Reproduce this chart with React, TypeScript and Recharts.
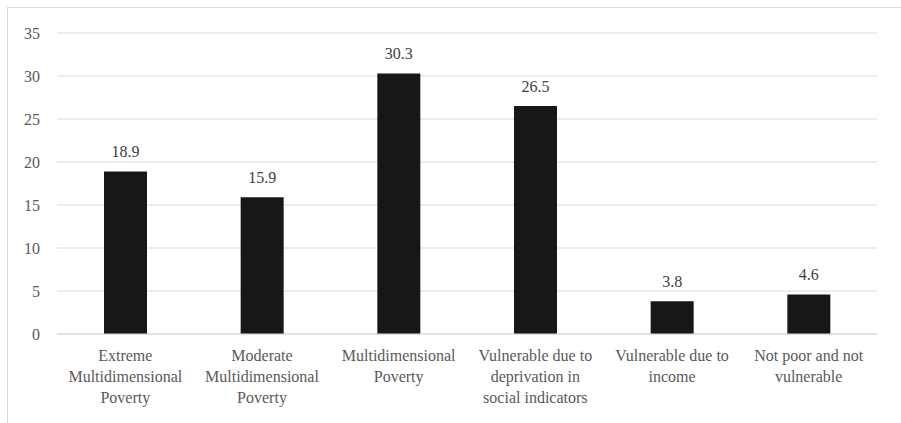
import React from "react";
import { BarChart, Bar, XAxis, YAxis, CartesianGrid, LabelList } from "recharts";

const categories = [
  "Extreme Multidimensional Poverty",
  "Moderate Multidimensional Poverty",
  "Multidimensional Poverty",
  "Vulnerable due to deprivation in social indicators",
  "Vulnerable due to income",
  "Not poor and not vulnerable",
];
const categoryLines: string[][] = [
  ["Extreme", "Multidimensional", "Poverty"],
  ["Moderate", "Multidimensional", "Poverty"],
  ["Multidimensional", "Poverty"],
  ["Vulnerable due to", "deprivation in", "social indicators"],
  ["Vulnerable due to", "income"],
  ["Not poor and not", "vulnerable"],
];
const values = [18.9, 15.9, 30.3, 26.5, 3.8, 4.6];
const yTicks = [0, 5, 10, 15, 20, 25, 30, 35];

const data = categories.map((c, i) => ({ name: c, value: values[i], idx: i }));

const FONT = "Liberation Serif";

const CatTick = (props: any) => {
  const { x, y, payload } = props;
  const lines = categoryLines[payload.index] || [String(payload.value)];
  return (
    <g>
      {lines.map((l, i) => (
        <text
          key={i}
          x={x}
          y={y + 19 + i * 21}
          textAnchor="middle"
          fill="#595959"
          fontSize={16}
          fontFamily={FONT}
        >
          {l}
        </text>
      ))}
    </g>
  );
};

export default function App() {
  return (
    <div
      style={{
        position: "absolute",
        left: 0,
        top: 0,
        width: 901,
        height: 423,
        background: "#fff",
        overflow: "hidden",
      }}
    >
      <div
        style={{
          position: "absolute",
          left: 7,
          top: 7,
          width: 1000,
          height: 1000,
          border: "1px solid #d9d9d9",
          boxSizing: "border-box",
        }}
      />
      <div style={{ position: "absolute", left: 0, top: 0 }}>
        <BarChart
          width={901}
          height={423}
          data={data}
          margin={{ top: 33, right: 24, left: 0, bottom: 9 }}
          barCategoryGap={0}
        >
          <CartesianGrid vertical={false} stroke="#d9d9d9" strokeWidth={1} />
          <XAxis
            dataKey="name"
            axisLine={{ stroke: "#d9d9d9" }}
            tickLine={false}
            height={80}
            interval={0}
            tick={<CatTick />}
          />
          <YAxis
            width={57}
            domain={[0, 35]}
            ticks={yTicks}
            axisLine={false}
            tickLine={false}
            tickSize={0}
            tickMargin={17}
            tick={{ fill: "#595959", fontSize: 16, fontFamily: FONT }}
          />
          <Bar dataKey="value" fill="#171717" barSize={43} isAnimationActive={false}>
            <LabelList
              dataKey="value"
              position="top"
              offset={14}
              fill="#404040"
              fontSize={16}
              fontFamily={FONT}
              formatter={(v: any) => Number(v).toFixed(1)}
            />
          </Bar>
        </BarChart>
      </div>
    </div>
  );
}
